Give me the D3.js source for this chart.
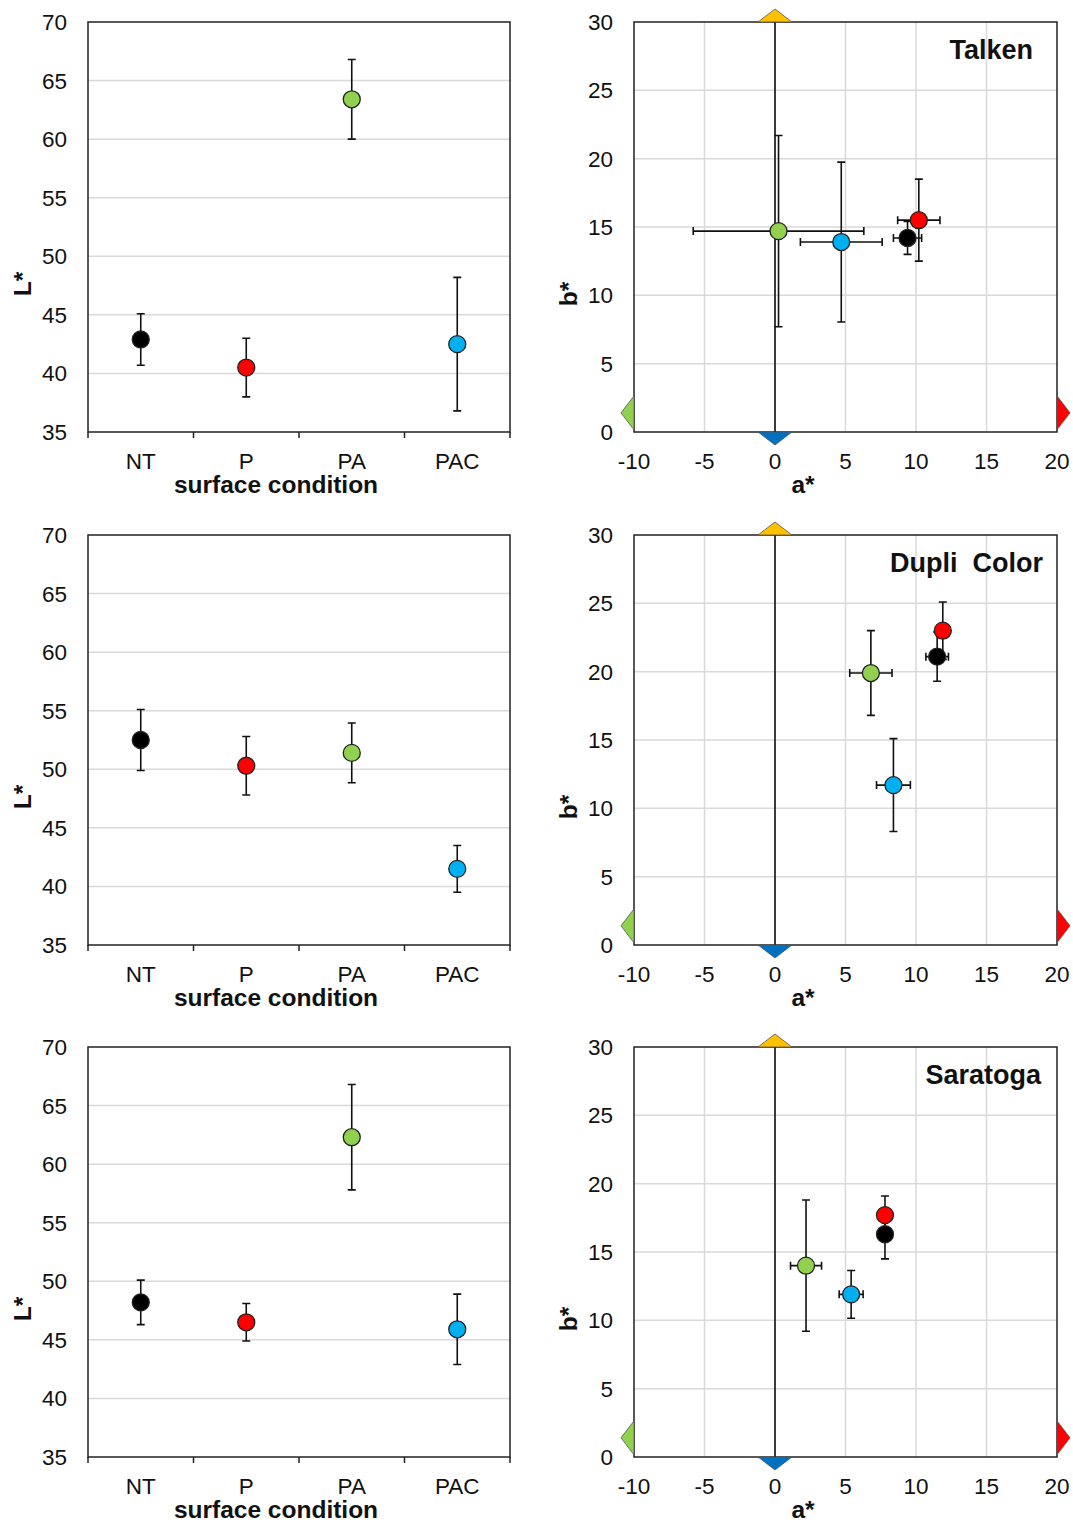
<!DOCTYPE html>
<html>
<head>
<meta charset="utf-8">
<title>L* and a*b* by surface condition</title>
<style>
  body { margin: 0; background: #fff; }
  text { font-family: "Liberation Sans", Arial, sans-serif; fill: #111; }
  .tick-label { font-size: 22.5px; }
  .axis-title { font-size: 24.5px; font-weight: bold; }
  .brand { font-size: 27px; font-weight: bold; }
  .grid { stroke: #d9d9d9; stroke-width: 1.5; }
  .frame { fill: none; stroke: #222; stroke-width: 1.5; }
  .err { stroke: #111; stroke-width: 1.6; fill: none; }
  .pt { stroke: #222; stroke-width: 1.3; }
</style>
</head>
<body>
<svg width="1073" height="1523"></svg>
<script src="https://cdnjs.cloudflare.com/ajax/libs/d3/7.8.5/d3.min.js"></script>
<script>
// categories and colours
var categories = ["NT", "P", "PA", "PAC"];
var catColors = ["#000000", "#ff0000", "#92d050", "#00b0f0"];
var brands = ["Talken", "Dupli  Color", "Saratoga"];

// L* mean and SD, one row per brand (order NT, P, PA, PAC)
var lMean = [[42.9, 40.5, 63.4, 42.5], [52.5, 50.3, 51.4, 41.5], [48.2, 46.5, 62.3, 45.9]];
var lSd   = [[2.2, 2.5, 3.4, 5.7],     [2.6, 2.5, 2.55, 2.0],   [1.9, 1.6, 4.5, 3.0]];

// a* and b* mean and SD
var aMean = [[9.4, 10.2, 0.25, 4.7], [11.5, 11.9, 6.8, 8.4], [7.8, 7.8, 2.2, 5.4]];
var aSd   = [[1.0, 1.5, 6.05, 2.9],  [0.8, 0.3, 1.5, 1.2],   [0.2, 0.2, 1.1, 0.85]];
var bMean = [[14.2, 15.5, 14.7, 13.9], [21.1, 23.0, 19.9, 11.7], [16.3, 17.7, 14.0, 11.9]];
var bSd   = [[1.2, 3.0, 7.0, 5.85],    [1.8, 2.1, 3.1, 3.4],     [1.8, 1.4, 4.8, 1.75]];

// tick values
var lTicks = [35, 40, 45, 50, 55, 60, 65, 70];
var aTicks = [-10, -5, 0, 5, 10, 15, 20];
var bTicks = [0, 5, 10, 15, 20, 25, 30];

// colour-axis markers (a*,b*) : green / red on a*, blue / yellow on b*
var axisMarkers = [
  {a: -10, b: 1.4, color: "#92d050", dir: "left"},
  {a: 20, b: 1.4, color: "#ff0000", dir: "right"},
  {a: 0, b: 30, color: "#ffc000", dir: "up"},
  {a: 0, b: 0, color: "#0070c0", dir: "down"}
];

var svg = d3.select("svg");
svg.append("rect").attr("width", 1073).attr("height", 1523).attr("fill", "#fff");

var rowTop = [22, 535, 1047];
var brandRight = [1033, 1043, 1041];
var plotH = 410;

rowTop.forEach(function(top, i) {
  drawL(i, top);
  drawAB(i, top);
});

function drawL(i, top) {
  var g = svg.append("g");
  var x = d3.scaleBand().domain(categories).range([88, 510]);
  var y = d3.scaleLinear().domain([35, 70]).range([top + plotH, top]);

  g.selectAll(".grid").data(lTicks.slice(1, -1)).enter().append("line")
    .attr("class", "grid")
    .attr("x1", 88).attr("x2", 510)
    .attr("y1", function(d) { return y(d); }).attr("y2", function(d) { return y(d); });

  g.append("rect").attr("class", "frame")
    .attr("x", 88).attr("y", top).attr("width", 422).attr("height", plotH);

  // category boundary ticks
  var bounds = categories.map(function(c) { return x(c); }).concat([510]);
  g.selectAll(".xt").data(bounds).enter().append("line")
    .attr("stroke", "#222").attr("stroke-width", 1.5)
    .attr("x1", function(d) { return d; }).attr("x2", function(d) { return d; })
    .attr("y1", top + plotH).attr("y2", top + plotH + 6);

  g.selectAll(".yl").data(lTicks).enter().append("text")
    .attr("class", "tick-label")
    .attr("x", 67).attr("y", function(d) { return y(d) + 8; })
    .attr("text-anchor", "end")
    .text(function(d) { return d; });

  g.selectAll(".xl").data(categories).enter().append("text")
    .attr("class", "tick-label")
    .attr("x", function(d) { return x(d) + x.bandwidth() / 2; })
    .attr("y", top + plotH + 37)
    .attr("text-anchor", "middle")
    .text(function(d) { return d; });

  g.append("text").attr("class", "axis-title")
    .attr("x", 276).attr("y", top + plotH + 61)
    .attr("text-anchor", "middle").text("surface condition");

  g.append("text").attr("class", "axis-title")
    .attr("transform", "translate(31," + (top + 262) + ") rotate(-90)")
    .attr("text-anchor", "middle").text("L*");

  var pts = categories.map(function(c, k) {
    return {cx: x(c) + x.bandwidth() / 2, m: lMean[i][k], s: lSd[i][k], color: catColors[k]};
  });

  pts.forEach(function(p) {
    var y0 = y(p.m - p.s), y1 = y(p.m + p.s);
    g.append("path").attr("class", "err")
      .attr("d", "M" + p.cx + "," + y0 + "V" + y1 +
        "M" + (p.cx - 4) + "," + y0 + "H" + (p.cx + 4) +
        "M" + (p.cx - 4) + "," + y1 + "H" + (p.cx + 4));
  });

  g.selectAll(".pt").data(pts).enter().append("circle")
    .attr("class", "pt")
    .attr("cx", function(d) { return d.cx; })
    .attr("cy", function(d) { return y(d.m); })
    .attr("r", 8.5)
    .attr("fill", function(d) { return d.color; });
}

function drawAB(i, top) {
  var g = svg.append("g");
  var x = d3.scaleLinear().domain([-10, 20]).range([634, 1057]);
  var y = d3.scaleLinear().domain([0, 30]).range([top + plotH, top]);

  g.selectAll(".gx").data(aTicks.slice(1, -1)).enter().append("line")
    .attr("class", "grid")
    .attr("x1", function(d) { return x(d); }).attr("x2", function(d) { return x(d); })
    .attr("y1", top).attr("y2", top + plotH);
  g.selectAll(".gy").data(bTicks.slice(1, -1)).enter().append("line")
    .attr("class", "grid")
    .attr("x1", 634).attr("x2", 1057)
    .attr("y1", function(d) { return y(d); }).attr("y2", function(d) { return y(d); });

  g.append("rect").attr("class", "frame")
    .attr("x", 634).attr("y", top).attr("width", 423).attr("height", plotH);

  // a* = 0 line
  g.append("line").attr("stroke", "#111").attr("stroke-width", 1.6)
    .attr("x1", x(0)).attr("x2", x(0)).attr("y1", top).attr("y2", top + plotH);

  // half diamonds on the colour axes
  axisMarkers.forEach(function(m) {
    var cx = x(m.a), cy = y(m.b), d;
    if (m.dir === "left") d = "M" + cx + "," + (cy - 17) + "L" + (cx - 13) + "," + cy + "L" + cx + "," + (cy + 17) + "Z";
    if (m.dir === "right") d = "M" + cx + "," + (cy - 17) + "L" + (cx + 13) + "," + cy + "L" + cx + "," + (cy + 17) + "Z";
    if (m.dir === "up") d = "M" + (cx - 17) + "," + cy + "L" + cx + "," + (cy - 13) + "L" + (cx + 17) + "," + cy + "Z";
    if (m.dir === "down") d = "M" + (cx - 17) + "," + cy + "L" + cx + "," + (cy + 13) + "L" + (cx + 17) + "," + cy + "Z";
    g.append("path").attr("d", d).attr("fill", m.color)
      .attr("stroke", "#555").attr("stroke-width", 0.8);
  });

  g.selectAll(".yl").data(bTicks).enter().append("text")
    .attr("class", "tick-label")
    .attr("x", 613).attr("y", function(d) { return y(d) + 8; })
    .attr("text-anchor", "end")
    .text(function(d) { return d; });

  g.selectAll(".xl").data(aTicks).enter().append("text")
    .attr("class", "tick-label")
    .attr("x", function(d) { return x(d); })
    .attr("y", top + plotH + 37)
    .attr("text-anchor", "middle")
    .text(function(d) { return d; });

  g.append("text").attr("class", "axis-title")
    .attr("x", 803).attr("y", top + plotH + 61)
    .attr("text-anchor", "middle").text("a*");

  g.append("text").attr("class", "axis-title")
    .attr("transform", "translate(577," + (top + 272) + ") rotate(-90)")
    .attr("text-anchor", "middle").text("b*");

  g.append("text").attr("class", "brand")
    .attr("x", brandRight[i]).attr("y", top + 37)
    .attr("text-anchor", "end")
    .attr("xml:space", "preserve")
    .style("white-space", "pre")
    .text(brands[i]);

  var pts = categories.map(function(c, k) {
    return {a: aMean[i][k], as: aSd[i][k], b: bMean[i][k], bs: bSd[i][k], color: catColors[k]};
  });

  pts.forEach(function(p) {
    var cx = x(p.a), cy = y(p.b);
    var x0 = x(p.a - p.as), x1 = x(p.a + p.as);
    var y0 = y(p.b - p.bs), y1 = y(p.b + p.bs);
    g.append("path").attr("class", "err")
      .attr("d", "M" + cx + "," + y0 + "V" + y1 +
        "M" + (cx - 4) + "," + y0 + "H" + (cx + 4) +
        "M" + (cx - 4) + "," + y1 + "H" + (cx + 4) +
        "M" + x0 + "," + cy + "H" + x1 +
        "M" + x0 + "," + (cy - 4) + "V" + (cy + 4) +
        "M" + x1 + "," + (cy - 4) + "V" + (cy + 4));
  });

  g.selectAll(".pt").data(pts).enter().append("circle")
    .attr("class", "pt")
    .attr("cx", function(d) { return x(d.a); })
    .attr("cy", function(d) { return y(d.b); })
    .attr("r", 8.5)
    .attr("fill", function(d) { return d.color; });
}
</script>
</body>
</html>
